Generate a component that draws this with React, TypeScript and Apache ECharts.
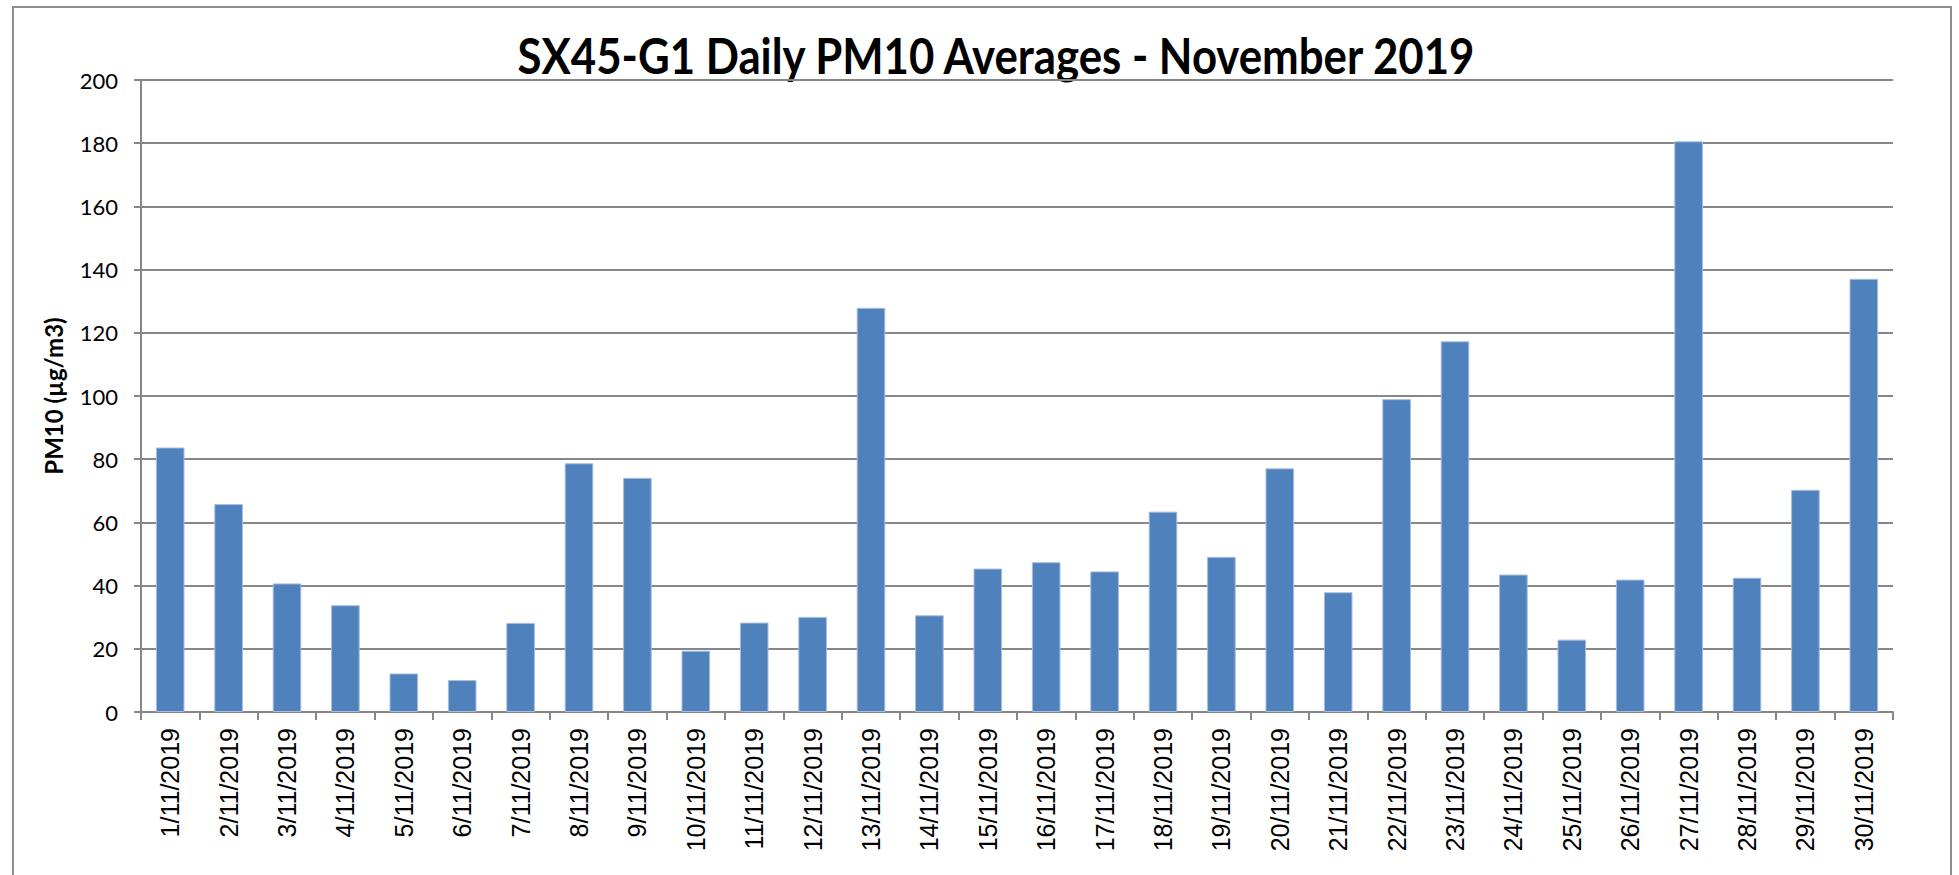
import React, { useEffect, useRef } from "react";
import * as echarts from "echarts";

const TITLE = "SX45-G1 Daily PM10 Averages - November 2019";
const Y_NAME = "PM10 (µg/m3)";

const categories: string[] = [
  "1/11/2019", "2/11/2019", "3/11/2019", "4/11/2019", "5/11/2019",
  "6/11/2019", "7/11/2019", "8/11/2019", "9/11/2019", "10/11/2019",
  "11/11/2019", "12/11/2019", "13/11/2019", "14/11/2019", "15/11/2019",
  "16/11/2019", "17/11/2019", "18/11/2019", "19/11/2019", "20/11/2019",
  "21/11/2019", "22/11/2019", "23/11/2019", "24/11/2019", "25/11/2019",
  "26/11/2019", "27/11/2019", "28/11/2019", "29/11/2019", "30/11/2019",
];

const pm10Values: number[] = [
  83.7, 65.8, 40.7, 33.8, 12.2, 10.1, 28.2, 78.7, 74.1, 19.4,
  28.3, 30.1, 127.9, 30.6, 45.4, 47.4, 44.5, 63.4, 49.1, 77.1,
  37.9, 99.0, 117.3, 43.5, 22.9, 41.9, 180.6, 42.5, 70.3, 137.1,
];

const yTicks = { min: 0, max: 200, interval: 20 };

export default function App() {
  const ref = useRef<HTMLDivElement>(null);

  useEffect(() => {
    if (!ref.current) return;
    const chart = echarts.init(ref.current, undefined, { renderer: "svg" });
    const gray = "#878787";
    chart.setOption({
      animation: false,
      backgroundColor: "#ffffff",
      grid: { left: 141, right: 66, top: 80, bottom: 163, containLabel: false },
      graphic: [
        {
          type: "rect",
          shape: { x: 13, y: 7, width: 1938, height: 900 },
          style: { fill: "none", stroke: "#8e8e8e", lineWidth: 2 },
          silent: true,
          z: -1,
        },
        {
          type: "text",
          x: 996,
          y: 55,
          scaleX: 0.875,
          style: {
            text: TITLE,
            fontFamily: "Lato",
            fontWeight: "bold",
            fontSize: 50,
            fill: "#000000",
            align: "center",
            verticalAlign: "middle",
          },
          silent: true,
        },
      ],
      xAxis: {
        type: "category",
        data: categories,
        boundaryGap: true,
        axisLine: { show: true, lineStyle: { color: gray, width: 2 } },
        axisTick: { show: true, alignWithLabel: false, length: 8, lineStyle: { color: gray, width: 2 } },
        axisLabel: {
          interval: 0,
          rotate: 90,
          margin: 16,
          fontFamily: "Liberation Sans",
          fontSize: 25,
          color: "#000000",
        },
        splitLine: { show: false },
      },
      yAxis: {
        type: "value",
        min: yTicks.min,
        max: yTicks.max,
        interval: yTicks.interval,
        name: Y_NAME,
        nameLocation: "middle",
        nameRotate: 90,
        nameGap: 76,
        nameTextStyle: {
          fontFamily: "Lato",
          fontWeight: "bold",
          fontSize: 24,
          color: "#000000",
        },
        axisLine: { show: true, lineStyle: { color: gray, width: 2 } },
        axisTick: { show: true, inside: false, length: 7, lineStyle: { color: gray, width: 2 } },
        axisLabel: {
          margin: 23,
          fontFamily: "Lato",
          fontSize: 22,
          color: "#000000",
        },
        splitLine: { show: true, lineStyle: { color: gray, width: 2 } },
      },
      series: [
        {
          type: "bar",
          data: pm10Values,
          barWidth: "49%",
          itemStyle: { color: "#4F81BD", borderColor: "#a7bedd", borderWidth: 1 },
        },
      ],
    });
    return () => chart.dispose();
  }, []);

  return (
    <div
      ref={ref}
      style={{ position: "fixed", left: 0, top: 0, width: 1959, height: 875 }}
    />
  );
}
